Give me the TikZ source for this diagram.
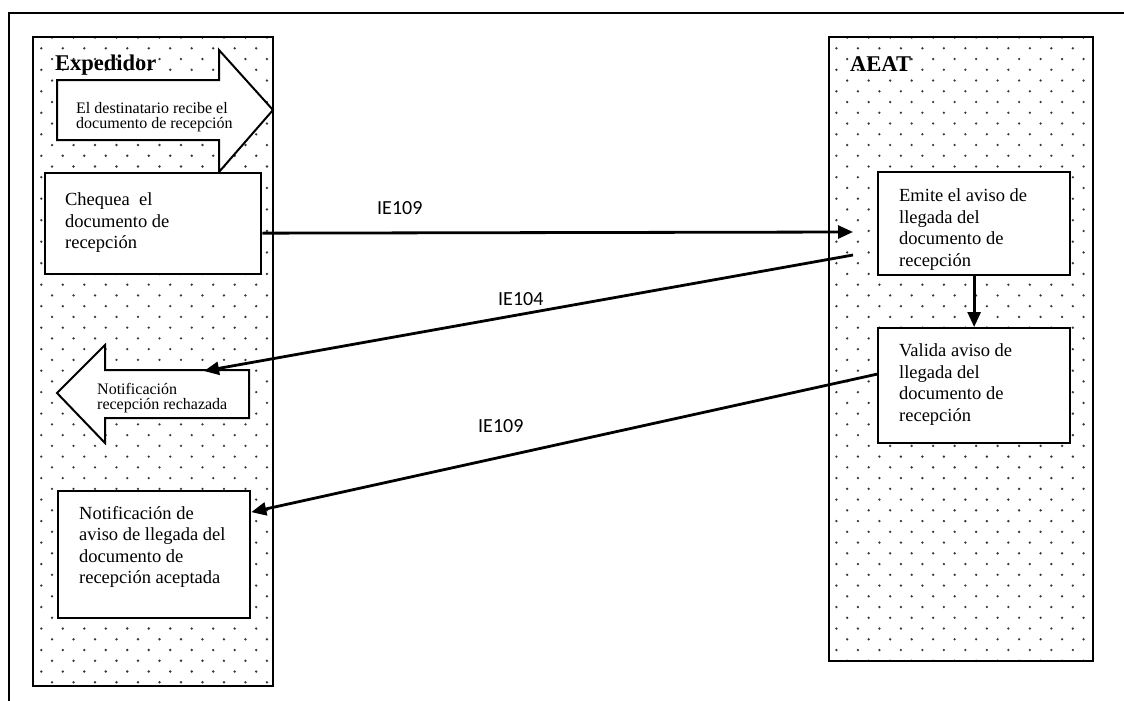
\documentclass[tikz,border=0pt]{standalone}
\usepackage{fontspec}
\setmainfont{Liberation Serif}
\newfontfamily\msgfont{Carlito}
\usetikzlibrary{arrows.meta}

\begin{document}
\begin{tikzpicture}[x=1pt,y=-1pt,
    box/.style={draw,line width=2.3pt,fill=white,inner sep=0pt,anchor=north west,font=\fontsize{18.5}{21.5}\selectfont},
    bigarrow/.style={draw,line width=2pt,fill=white,line join=miter},
    msgline/.style={line width=2.8pt,-{Triangle[length=15pt,width=13pt]}},
    msg/.style={anchor=base west,inner sep=0pt,font=\msgfont\fontsize{20}{24}\selectfont},
    lanename/.style={anchor=base west,inner sep=0pt,font=\bfseries\fontsize{22.5}{27}\selectfont},
    note/.style={anchor=north west,inner sep=0pt,align=left,font=\fontsize{16}{15.4}\selectfont}]

% \clip (0,0) rectangle (1124,701);
\useasboundingbox (0,0) rectangle (1124,701);

% Changing color for the dots
\definecolor{dotc}{rgb}{0.22,0.22,0.22}

% Filling lane Expedidor with dots
\begin{scope}
\clip (33,37) rectangle (273,686);
\foreach \k in {-1,...,30}
  \foreach \i in {-1,...,12} {
    \fill[dotc] (41.3+21.49*\i,48.3+21.49*\k) circle (1.3pt);
    \fill[dotc] (52.05+21.49*\i,59.05+21.49*\k) circle (1.3pt);
  }
\end{scope}

% Filling lane AEAT with dots
\begin{scope}
\clip (829,37) rectangle (1093,661);
\foreach \k in {-1,...,30}
  \foreach \i in {35,...,50} {
    \fill[dotc] (41.3+21.49*\i,48.3+21.49*\k) circle (1.3pt);
    \fill[dotc] (52.05+21.49*\i,59.05+21.49*\k) circle (1.3pt);
  }
\end{scope}

% Drawing frame
\draw[line width=2pt] (1124,13) -- (9,13) -- (9,701);

% Drawing lanes
\draw[line width=2.3pt] (33,37) rectangle (273,686);
\draw[line width=2.3pt] (829,37) rectangle (1093,661);
\node[lanename] (expedidor) at (55,70.7) {Expedidor};
\node[lanename] (aeat) at (850,71) {AEAT};

% Drawing arrow shape El destinatario
\draw[bigarrow] (57,80) -- (219,80) -- (219,50) -- (273,110) -- (219,172) -- (219,140) -- (57,140) -- cycle;
\node[note] (recibe) at (76,101.8) {El destinatario recibe el\\documento de recepción};

% Drawing arrow shape Notificacion rechazada
\draw[bigarrow] (57,393) -- (105,345) -- (105,370) -- (249,370) -- (249,418) -- (105,418) -- (105,443) -- cycle;
\node[note] (rechazo) at (97,383) {Notificación\\recepción rechazada};
\coordinate (rechazotop) at (204,371);

% Drawing boxes
\node[box,minimum width=216,minimum height=101] (chequea) at (44,172)
  {\parbox[c][61pt][t]{176pt}{Chequea~ el\\documento de\\recepción}};
\node[box,minimum width=192,minimum height=127] (aviso) at (57,490)
  {\parbox[c][97pt][t]{150pt}{Notificación de\\aviso de llegada del\\documento de\\recepción aceptada}};
\node[box,minimum width=192,minimum height=103] (emite) at (877,171)
  {\parbox[c][69pt][t]{150pt}{Emite el aviso de\\llegada del\\documento de\\recepción}};
\node[box,minimum width=192,minimum height=115] (valida) at (877,327)
  {\parbox[c][83pt][t]{150pt}{Valida aviso de\\llegada del\\documento de\\recepción}};
\coordinate (emitein) at (853,232);
\coordinate (emiteout) at (853,255);

% Drawing messages
\draw[msgline] ([yshift=-9.5pt]chequea.east) -- (emitein);
\draw[msgline] (emiteout) -- (rechazotop);
\draw[msgline] ([yshift=11.5pt]valida.west) -- ([yshift=42.5pt]aviso.east);
\draw[msgline] (emite.south) -- (valida.north);
\node[msg] (ie109a) at (377,214) {IE109};
\node[msg] (ie104) at (498,305) {IE104};
\node[msg] (ie109b) at (478,432) {IE109};
\end{tikzpicture}
\end{document}
